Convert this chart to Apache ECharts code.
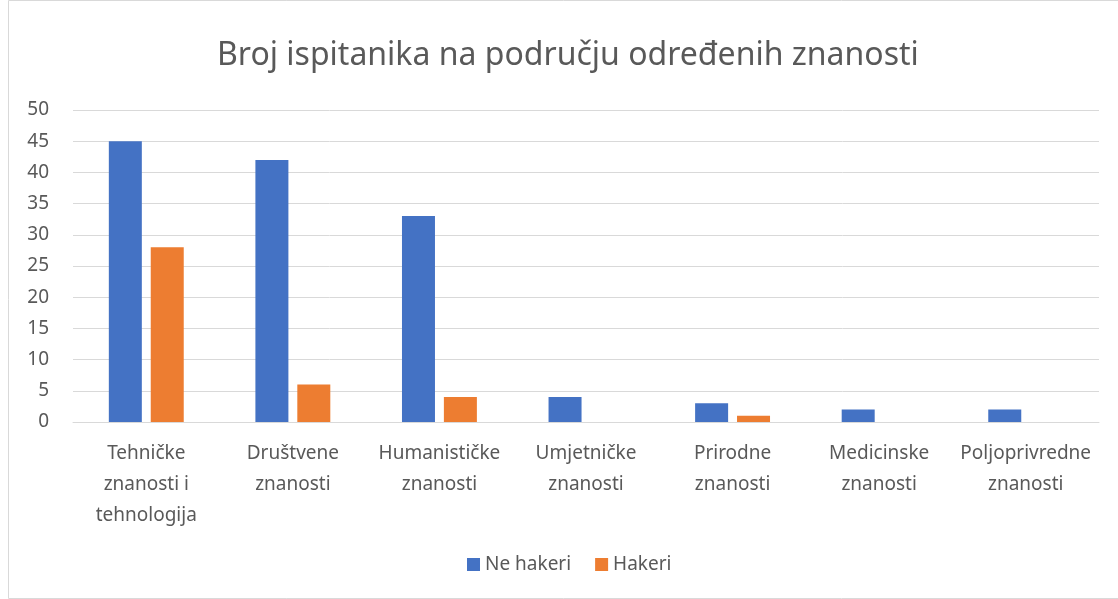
<!DOCTYPE html>
<html>
<head>
<meta charset="utf-8">
<script src="https://cdn.jsdelivr.net/npm/echarts@6/dist/echarts.min.js"></script>
<style>
  html, body { margin: 0; padding: 0; background: #fff; }
  #main { width: 1118px; height: 599px; }
</style>
</head>
<body>
<div id="main"></div>
<script>
// podaci
const categories = [
  "Tehničke\nznanosti i\ntehnologija",
  "Društvene\nznanosti",
  "Humanističke\nznanosti",
  "Umjetničke\nznanosti",
  "Prirodne\nznanosti",
  "Medicinske\nznanosti",
  "Poljoprivredne\nznanosti"
];
const neHakeri = [45, 42, 33, 4, 3, 2, 2];
const hakeri = [28, 6, 4, 0, 1, 0, 0];

const myChart = echarts.init(document.getElementById("main"));
const font = "'Noto Sans', 'Open Sans', sans-serif";

const options = {
  animation: false,
  textStyle: { fontFamily: font },
  graphic: [
    {
      type: "rect",
      shape: { x: 8.5, y: 0.5, width: 1120, height: 598 },
      style: { fill: "none", stroke: "#d9d9d9", lineWidth: 1 },
      silent: true
    }
  ],
  title: {
    text: "Broj ispitanika na području određenih znanosti",
    left: 212,
    top: 35,
    textStyle: { color: "#595959", fontSize: 32, fontWeight: "normal", fontFamily: font }
  },
  legend: {
    bottom: 20,
    left: 462,
    itemWidth: 13,
    itemHeight: 13,
    itemGap: 24,
    icon: "rect",
    textStyle: { color: "#595959", fontSize: 19, fontFamily: font },
    data: ["Ne hakeri", "Hakeri"]
  },
  grid: { left: 73, right: 19, top: 110, bottom: 177 },
  xAxis: {
    type: "category",
    data: categories,
    axisLine: { lineStyle: { color: "#d9d9d9", width: 1 } },
    axisTick: { show: false },
    axisLabel: {
      color: "#595959",
      fontSize: 19,
      lineHeight: 31,
      margin: 16,
      interval: 0,
      fontFamily: font
    }
  },
  yAxis: {
    type: "value",
    min: 0,
    max: 50,
    interval: 5,
    axisLine: { show: false },
    axisTick: { show: false },
    splitLine: { lineStyle: { color: "#d9d9d9", width: 1 } },
    axisLabel: { color: "#595959", fontSize: 19, margin: 24, fontFamily: font }
  },
  series: [
    {
      name: "Ne hakeri",
      type: "bar",
      data: neHakeri,
      barWidth: 33,
      barGap: "27%",
      itemStyle: { color: "#4472C4" }
    },
    {
      name: "Hakeri",
      type: "bar",
      data: hakeri,
      barWidth: 33,
      itemStyle: { color: "#ED7D31" }
    }
  ]
};

myChart.setOption(options);
</script>
</body>
</html>
